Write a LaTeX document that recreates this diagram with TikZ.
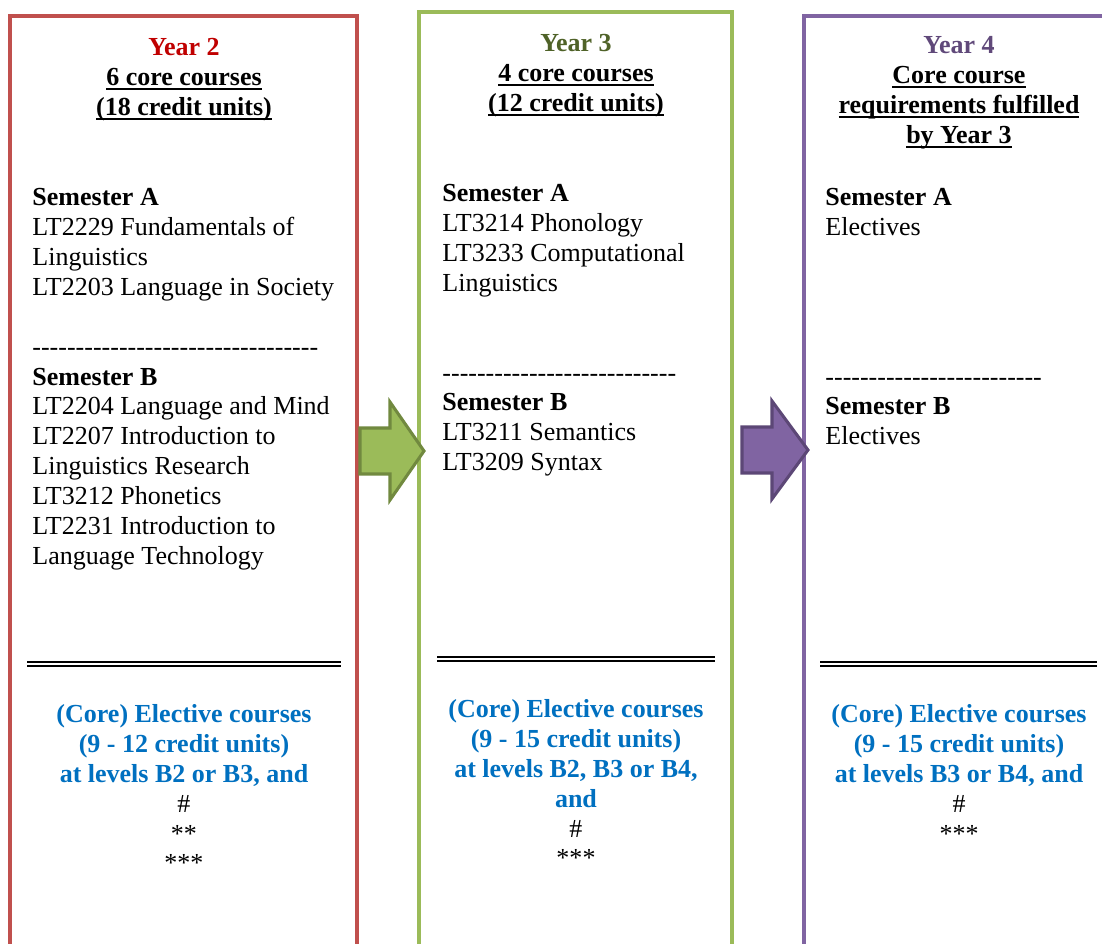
\documentclass[tikz,border=0pt]{standalone}
\usepackage{fontspec}
\setmainfont{Liberation Serif}
\usepackage{xcolor}
\usepackage{tikz}
\definecolor{yrred}{RGB}{192,80,77}
\definecolor{yrgreen}{RGB}{155,187,89}
\definecolor{yrpurple}{RGB}{128,100,162}
\definecolor{hdred}{RGB}{192,0,0}
\definecolor{hdgreen}{RGB}{79,98,40}
\definecolor{hdpurple}{RGB}{96,73,122}
\definecolor{elblue}{RGB}{0,112,192}
\definecolor{arrgreen}{RGB}{113,137,63}
\definecolor{arrpurple}{RGB}{92,71,118}
\newcommand{\px}{0.4615pt}
\newcommand{\dashrow}[1]{\foreach \k in {1,...,#1}{\mbox{-}}}
\newcommand{\plainmark}[1]{{\color{black}\mdseries #1}}
\newcommand{\hdul}[1]{\setbox0=\hbox{#1}\rlap{\rule[-2.1pt]{\wd0}{0.85pt}}\box0}
\tikzset{
  yearbox/.style={rectangle, inner sep=0pt, line width=1.85pt},
  heading/.style={anchor=north, inner sep=0pt, align=center,
    font=\fontsize{12}{13.8}\bfseries\selectfont},
  courses/.style={anchor=north west, inner sep=0pt, align=left,
    font=\fontsize{12}{13.8}\selectfont},
  electives/.style={anchor=north, inner sep=0pt, align=center, text=elblue,
    font=\fontsize{12}{13.8}\bfseries\selectfont},
  blockarrow/.style={line width=1.4pt, line join=miter},
  dblrule/.style={double, double distance=1.2pt, line width=0.6pt}
}

\begin{document}
\begin{tikzpicture}[x=\px, y=-\px]
  \useasboundingbox (0,0) rectangle (1102,944);
  \clip (0,0) rectangle (1102,944);
  \fill[white] (0,0) rectangle (1102,944);

  % Year boxes (open at the bottom of the page)
  \node[yearbox, draw=yrred, minimum width=347*\px, minimum height=984*\px] (yr2) at (183.5,508) {};
  \node[yearbox, draw=yrgreen, minimum width=313*\px, minimum height=988*\px] (yr3) at (575.5,506) {};
  \node[yearbox, draw=yrpurple, minimum width=309*\px, minimum height=984*\px] (yr4) at (958.5,508) {};

  % Block arrows between the boxes
  \coordinate (axis) at (0,451);
  \coordinate (axisb) at (0,450);
  \draw[blockarrow, fill=yrgreen, draw=arrgreen] (yr2.east |- axis) ++(1,-23)
    -- ++(30,0) -- ++(0,-26) -- ++(34,49) -- ++(-34,49) -- ++(0,-26) -- ++(-30,0) -- cycle;
  \draw[blockarrow, fill=yrpurple, draw=arrpurple] (yr3.east |- axisb) ++(8,-23)
    -- ++(30,0) -- ++(0,-26) -- ++(36,49) -- ++(-36,49) -- ++(0,-26) -- ++(-30,0) -- cycle;

  % Headings
  \node[heading] (hd2) at (184,38) {\textcolor{hdred}{Year 2}\\
    \hdul{6 core courses}\\ \hdul{(18 credit units)}};
  \node[heading] (hd3) at (576,34) {\textcolor{hdgreen}{Year 3}\\
    \hdul{4 core courses}\\ \hdul{(12 credit units)}};
  \node[heading] (hd4) at (959,36) {\textcolor{hdpurple}{Year 4}\\
    \hdul{Core course}\\ \hdul{requirements fulfilled}\\ \hdul{by Year 3}};

  % Semester lists
  \node[courses] (sem2) at (32,188) {\textbf{Semester A}\\
    LT2229 Fundamentals of\\ Linguistics\\ LT2203 Language in Society\\ ~\\
    \dashrow{33}\\
    \textbf{Semester B}\\ LT2204 Language and Mind\\ LT2207 Introduction to\\
    Linguistics Research\\ LT3212 Phonetics\\ LT2231 Introduction to\\ Language Technology};
  \node[courses] (sem3) at (442,184) {\textbf{Semester A}\\
    LT3214 Phonology\\ LT3233 Computational\\ Linguistics\\ ~\\ ~\\
    \dashrow{27}\\
    \textbf{Semester B}\\ LT3211 Semantics\\ LT3209 Syntax};
  \node[courses] (sem4) at (825,188) {\textbf{Semester A}\\
    Electives\\ ~\\ ~\\ ~\\ ~\\
    \dashrow{25}\\
    \textbf{Semester B}\\ Electives};

  % Double rules
  \draw[dblrule] (27,664) -- (341,664);
  \draw[dblrule] (437,659) -- (715,659);
  \draw[dblrule] (820,664) -- (1097,664);

  % Electives
  \node[electives] (el2) at (184,704) {(Core) Elective courses\\ (9 - 12 credit units)\\
    at levels B2 or B3, and\\ \plainmark{\#}\\ \plainmark{**}\\ \plainmark{***}};
  \node[electives] (el3) at (576,699) {(Core) Elective courses\\ (9 - 15 credit units)\\
    at levels B2, B3 or B4,\\ and\\ \plainmark{\#}\\ \plainmark{***}};
  \node[electives] (el4) at (959,704) {(Core) Elective courses\\ (9 - 15 credit units)\\
    at levels B3 or B4, and\\ \plainmark{\#}\\ \plainmark{***}};
\end{tikzpicture}
\end{document}
